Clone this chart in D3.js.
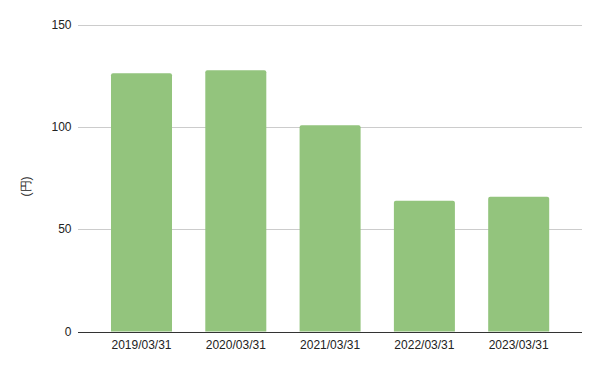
<!DOCTYPE html>
<meta charset="utf-8">
<script src="https://d3js.org/d3.v7.min.js"></script>
<style>
  body { margin: 0; background: #fff; }
  text { font-family: "Liberation Sans", Arial, sans-serif; }
</style>
<div id="chart"></div>
<script>
// data
var dates = ["2019/03/31", "2020/03/31", "2021/03/31", "2022/03/31", "2023/03/31"];
var values = [126.5, 128, 101, 64, 66];
var yTicks = [0, 50, 100, 150];
var yLabel = "(円)";

var width = 600, height = 371;

var svg = d3.select("#chart")
  .append("svg")
    .attr("width", width)
    .attr("height", height);

// plot area (note: "top" is taken by window.top, so use plotTop)
var plotLeft = 78, plotRight = 582, plotTop = 25.3, plotBottom = 331.5;

var y = d3.scaleLinear()
  .domain([0, 150])
  .range([plotBottom, plotTop]);

var x = d3.scaleBand()
  .domain(dates)
  .range([94.35, 565.85])
  .paddingInner(0.353)
  .paddingOuter(0.1765);

// gridlines
svg.append("g")
  .selectAll("line")
  .data(yTicks.filter(d => d > 0))
  .enter()
  .append("line")
    .attr("x1", plotLeft)
    .attr("x2", plotRight)
    .attr("y1", d => Math.round(y(d)) + 0.5)
    .attr("y2", d => Math.round(y(d)) + 0.5)
    .attr("stroke", "#cccccc")
    .attr("stroke-width", 1);

// y tick labels
svg.append("g")
  .selectAll("text")
  .data(yTicks)
  .enter()
  .append("text")
    .attr("x", 71.5)
    .attr("y", d => y(d) + 4)
    .attr("text-anchor", "end")
    .attr("font-size", 12)
    .attr("fill", "#222")
    .text(d => d);

// bars
svg.append("g")
  .selectAll("path")
  .data(values)
  .enter()
  .append("path")
    .attr("fill", "#93c47d")
    .attr("d", function(d, i) {
      var x0 = x(dates[i]), w = x.bandwidth(), y0 = y(d), r = 2;
      return "M" + x0 + "," + plotBottom +
        "V" + (y0 + r) +
        "Q" + x0 + "," + y0 + " " + (x0 + r) + "," + y0 +
        "H" + (x0 + w - r) +
        "Q" + (x0 + w) + "," + y0 + " " + (x0 + w) + "," + (y0 + r) +
        "V" + plotBottom + "Z";
    });

// baseline
svg.append("line")
  .attr("x1", plotLeft)
  .attr("x2", plotRight)
  .attr("y1", Math.round(plotBottom) + 0.5)
  .attr("y2", Math.round(plotBottom) + 0.5)
  .attr("stroke", "#333333")
  .attr("stroke-width", 1);

// x labels
svg.append("g")
  .selectAll("text")
  .data(dates)
  .enter()
  .append("text")
    .attr("x", d => x(d) + x.bandwidth() / 2)
    .attr("y", 348.5)
    .attr("text-anchor", "middle")
    .attr("font-size", 12)
    .attr("fill", "#222")
    .text(d => d);

// y axis title
svg.append("text")
  .attr("transform", "translate(30," + ((plotTop + plotBottom) / 2 + 8) + ") rotate(-90)")
  .attr("text-anchor", "middle")
  .attr("font-size", 12)
  .attr("fill", "#222")
  .text(yLabel);
</script>
